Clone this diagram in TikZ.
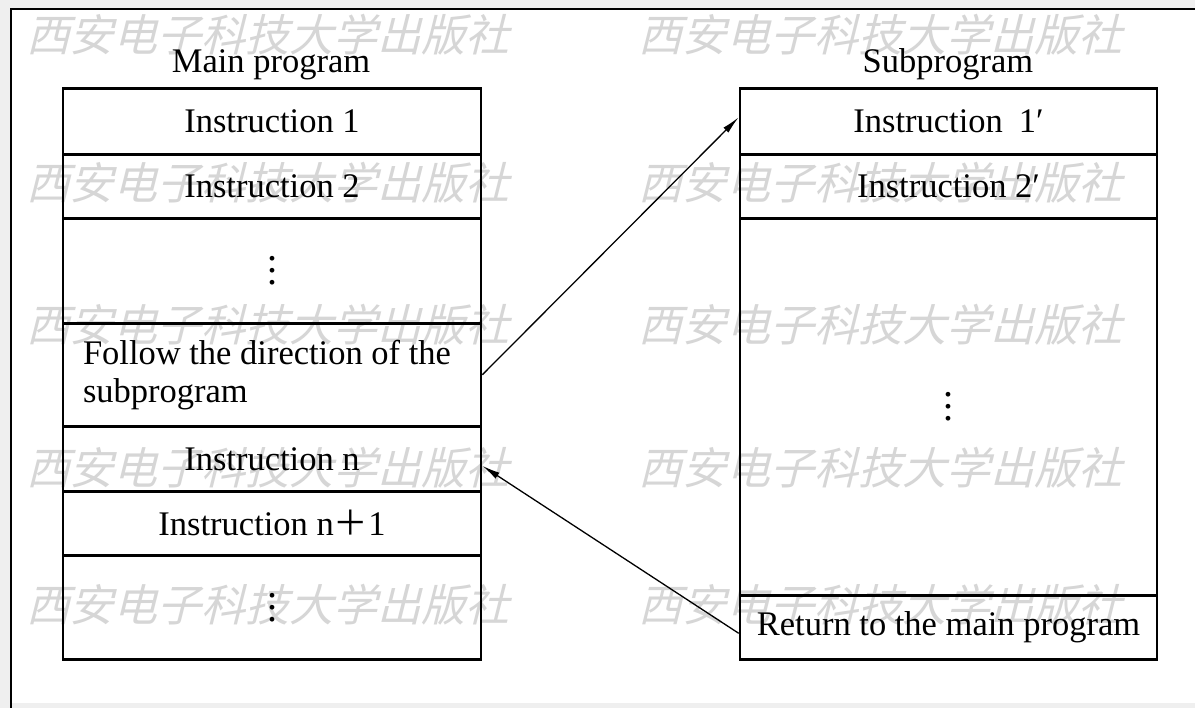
\documentclass[tikz,border=0pt]{standalone}
\usepackage{fontspec}
\setmainfont{Liberation Serif}
\newfontfamily\wmfont[FakeSlant=0.25]{Noto Sans CJK SC}
\newfontfamily\cjkfont{Noto Sans CJK SC}
\usetikzlibrary{arrows.meta}
\definecolor{bggray}{HTML}{EFEFEF}
\definecolor{wmgray}{HTML}{D6D6D6}
\begin{document}
\begin{tikzpicture}[x=1pt,y=-1pt,
  every node/.style={font=\fontsize{34.5}{38}\selectfont},
  rowbox/.style={draw, line width=2.6pt, inner sep=0pt, anchor=north, minimum width=418pt},
  subbox/.style={rowbox, minimum width=417pt},
  dotstack/.style={font=\fontsize{40}{12}\selectfont, align=center},
  arr/.style={line width=1.3pt, -{Latex[length=18pt,width=7pt]}},
  wm/.style={text=wmgray, font=\wmfont\fontsize{44}{44}\selectfont, inner sep=0pt}]
\useasboundingbox (0,0) rectangle (1195,708);
\fill[bggray] (0,0) rectangle (1195,708);
\fill[white] (11,9) rectangle (1195,703);
\draw[line width=2.5pt] (11,708) -- (11,9) -- (1195,9);
% watermarks
\foreach \y in {35,183,325,468,605}{
  \node[wm] (wmL\y) at (268,\y) {西安电子科技大学出版社};
  \node[wm] (wmR\y) at (880,\y) {西安电子科技大学出版社};
}
% titles
\node[anchor=base] (tm) at (271,73) {Main program};
\node[anchor=base] (ts) at (948,73) {Subprogram};
% main program
\node[rowbox, minimum height=66pt] (m1) at (272,87) {Instruction 1};
\node[rowbox, minimum height=64pt] (m2) at (272,153) {Instruction 2};
\node[rowbox, minimum height=105pt, dotstack] (m3) at (272,217) {.\\.\\.};
\node[rowbox, minimum height=103pt, text width=378pt, inner xsep=20pt, align=flush left] (m4) at (272,322) {Follow the direction of the\\subprogram};
\node[rowbox, minimum height=65pt] (m5) at (272,425) {Instruction n};
\node[rowbox, minimum height=64pt] (m6) at (272,490) {Instruction n{\cjkfont ＋}1};
\node[rowbox, minimum height=104pt, dotstack] (m7) at (272,554) {.\\.\\.};
% subprogram
\node[subbox, minimum height=66pt] (s1) at (948.5,87) {Instruction\hspace{16pt}1′};
\node[subbox, minimum height=64pt] (s2) at (948.5,153) {Instruction 2′};
\node[subbox, minimum height=377pt, dotstack] (s3) at (948.5,217) {.\\.\\.};
\node[subbox, minimum height=64pt] (s4) at (948.5,594) {Return to the main program};
% arrows
\draw[arr] (m4.east) -- ([yshift=4pt]s1.west);
\draw[arr] ([yshift=-6pt]s4.west) -- ([yshift=-7pt]m5.east);
\end{tikzpicture}
\end{document}
